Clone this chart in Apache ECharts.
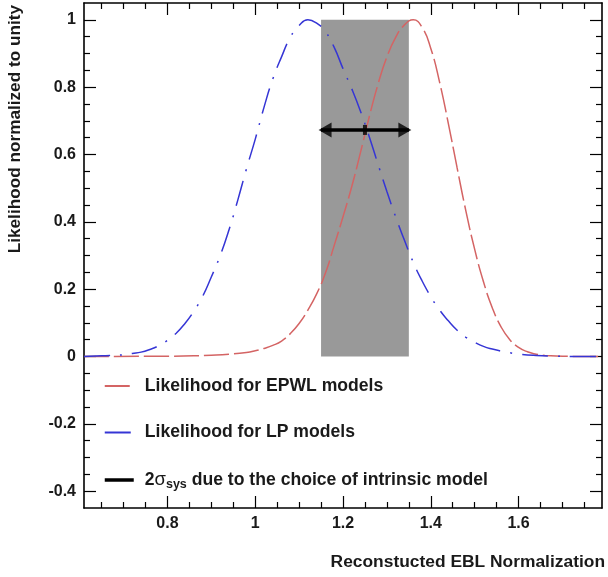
<!DOCTYPE html>
<html>
<head>
<meta charset="utf-8">
<script src="https://cdn.jsdelivr.net/npm/echarts@6/dist/echarts.min.js"></script>
<style>
html,body{margin:0;padding:0;background:#fff;}
#chart{width:608px;height:577px;}
</style>
</head>
<body>
<div id="chart"></div>
<script>
// ---- data ----
const lpName = 'Likelihood for LP models';
const epwlName = 'Likelihood for EPWL models';
const sysName = '2σsys due to the choice of intrinsic model';

const lpX = [0.61,0.65,0.70,0.72,0.74,0.76,0.78,0.80,0.82,0.84,0.86,0.88,0.90,0.92,0.94,0.96,0.98,1.00,1.02,1.04,1.06,1.08,1.10,1.12,1.14,1.16,1.18,1.20,1.22,1.24,1.26,1.28,1.30,1.32,1.34,1.36,1.38,1.40,1.42,1.44,1.46,1.48,1.50,1.52,1.54,1.56,1.58,1.60,1.64,1.68,1.72,1.79];
const lpY = [0.000,0.002,0.005,0.009,0.013,0.021,0.032,0.048,0.069,0.098,0.134,0.178,0.236,0.299,0.375,0.463,0.557,0.645,0.740,0.824,0.890,0.948,0.983,1.000,0.990,0.965,0.918,0.855,0.795,0.728,0.652,0.570,0.490,0.415,0.345,0.280,0.225,0.178,0.138,0.106,0.078,0.057,0.042,0.030,0.022,0.016,0.011,0.007,0.003,0.001,0.000,0.000];

const epwlX = [0.61,0.80,0.86,0.90,0.94,0.98,1.00,1.02,1.04,1.06,1.08,1.10,1.12,1.14,1.16,1.18,1.20,1.22,1.24,1.26,1.28,1.30,1.32,1.34,1.36,1.38,1.40,1.42,1.44,1.46,1.48,1.50,1.52,1.54,1.56,1.58,1.60,1.62,1.64,1.66,1.70,1.74,1.79];
const epwlY = [0.000,0.001,0.002,0.004,0.007,0.012,0.017,0.024,0.033,0.046,0.068,0.098,0.138,0.186,0.248,0.330,0.415,0.505,0.607,0.713,0.810,0.890,0.948,0.985,1.000,0.978,0.915,0.815,0.692,0.560,0.432,0.318,0.222,0.145,0.088,0.050,0.027,0.014,0.007,0.003,0.001,0.000,0.000];

const bandX = [1.15, 1.35];   // shaded systematic band
const bandY = [0, 1];
const arrowX = [1.15, 1.35];  // 2 sigma_sys arrow
const arrowMid = 1.25;
const arrowY = 0.673;

const xRange = [0.61, 1.79];
const yRange = [-0.45, 1.05];
const xMajor = [0.8, 1.0, 1.2, 1.4, 1.6];
const xMinor = [0.65,0.70,0.75,0.85,0.90,0.95,1.05,1.10,1.15,1.25,1.30,1.35,1.45,1.50,1.55,1.65,1.70,1.75];
const yMajor = [-0.4,-0.2,0,0.2,0.4,0.6,0.8,1.0];
const yMinor = [-0.35,-0.3,-0.25,-0.15,-0.1,-0.05,0.05,0.1,0.15,0.25,0.3,0.35,0.45,0.5,0.55,0.65,0.7,0.75,0.85,0.9,0.95];

const xTitle = 'Reconstucted EBL Normalization';
const yTitle = 'Likelihood normalized to unity';

// ---- styling ----
const FONT = '"Liberation Sans", Arial, Helvetica, sans-serif';
const TXT = '#1a1a1a';
const RED = '#d46464';
const BLUE = '#3535d5';

function mkAxis(kind, pos, ticks, len, withLine, withLabels) {
  const range = kind === 'x' ? xRange : yRange;
  return {
    type: 'value', position: pos, min: range[0], max: range[1],
    gridIndex: 0,
    axisLine: { show: withLine, onZero: false, lineStyle: { color: '#000', width: 1.6 } },
    axisTick: { show: true, inside: true, length: len, customValues: ticks, lineStyle: { color: '#000', width: 1.2 } },
    axisLabel: withLabels ? {
      show: true, customValues: ticks, margin: 8, color: TXT,
      fontFamily: FONT, fontWeight: 'bold', fontSize: 16
    } : { show: false },
    splitLine: { show: false },
    minorTick: { show: false },
    minorSplitLine: { show: false }
  };
}

const chart = echarts.init(document.getElementById('chart'), null, { renderer: 'canvas' });

const option = {
  animation: false,
  backgroundColor: '#fff',
  grid: { left: 84, right: 6, top: 3, bottom: 69, containLabel: false },
  xAxis: [
    mkAxis('x', 'bottom', xMajor, 12, true, true),
    mkAxis('x', 'bottom', xMinor, 6, false, false),
    mkAxis('x', 'top', xMajor, 12, true, false),
    mkAxis('x', 'top', xMinor, 6, false, false)
  ],
  yAxis: [
    mkAxis('y', 'left', yMajor, 12, true, true),
    mkAxis('y', 'left', yMinor, 6, false, false),
    mkAxis('y', 'right', yMajor, 12, true, false),
    mkAxis('y', 'right', yMinor, 6, false, false)
  ],
  legend: {
    orient: 'vertical', left: 103, top: 376, padding: 0,
    itemWidth: 29, itemHeight: 10, itemGap: 26.5,
    selectedMode: false,
    itemStyle: { opacity: 0, borderWidth: 0 },
    data: [
      { name: epwlName },
      { name: lpName },
      { name: sysName, lineStyle: { width: 3.5, color: '#000' } }
    ],
    formatter: function (name) {
      if (name === sysName) return '2{sig|σ}{sub|sys} due to the choice of intrinsic model';
      return name;
    },
    textStyle: {
      fontFamily: FONT, fontWeight: 'bold', fontSize: 17.6, color: TXT,
      lineHeight: 20, padding: [0, 0, 0, 6],
      rich: {
        sig: { fontFamily: FONT, fontWeight: 'normal', fontSize: 18.5, color: TXT, lineHeight: 20 },
        sub: { fontFamily: FONT, fontWeight: 'bold', fontSize: 12.5, color: TXT, lineHeight: 11, padding: [9, 0, 0, 0] }
      }
    }
  },
  graphic: [
    {
      type: 'text', right: 3, top: 554, z: 10,
      style: { text: xTitle, font: 'bold 17.4px ' + FONT, fill: TXT }
    },
    {
      type: 'text', x: 15, y: 5, rotation: Math.PI / 2, z: 10,
      style: { text: yTitle, font: 'bold 17.2px ' + FONT, fill: TXT,
        align: 'right', verticalAlign: 'middle', textAlign: 'right', textVerticalAlign: 'middle' }
    }
  ],
  series: [
    {
      type: 'custom', name: 'band', silent: true, z: 1,
      xAxisIndex: 0, yAxisIndex: 0,
      data: [[bandX[0], bandX[1], bandY[0], bandY[1]]],
      encode: { x: [0, 1], y: [2, 3] },
      renderItem: function (params, api) {
        const a = api.coord([api.value(0), api.value(3)]);
        const b = api.coord([api.value(1), api.value(2)]);
        return { type: 'rect', shape: { x: a[0], y: a[1], width: b[0] - a[0], height: b[1] - a[1] },
          style: { fill: '#999999' } };
      }
    },
    {
      type: 'line', name: epwlName, z: 3, xAxisIndex: 0, yAxisIndex: 0,
      data: epwlX.map((x, i) => [x, epwlY[i]]),
      smooth: true, symbol: 'none', color: RED,
      lineStyle: { color: RED, width: 1.5, type: [25, 5] }
    },
    {
      type: 'line', name: lpName, z: 3, xAxisIndex: 0, yAxisIndex: 0,
      data: lpX.map((x, i) => [x, lpY[i]]),
      smooth: true, symbol: 'none', color: BLUE,
      lineStyle: { color: BLUE, width: 1.5, type: [26, 10, 2, 10] }
    },
    {
      type: 'line', name: sysName, z: 4, xAxisIndex: 0, yAxisIndex: 0,
      data: arrowX.map(x => [x, arrowY]),
      symbol: 'none', color: '#000',
      lineStyle: { color: '#000', width: 3.5, type: 'solid' }
    },
    {
      type: 'scatter', name: 'arrowheads', z: 5, xAxisIndex: 0, yAxisIndex: 0, silent: true,
      symbol: 'triangle', symbolSize: [15, 13],
      itemStyle: { color: '#000' },
      data: [
        { value: [arrowX[0], arrowY], symbolRotate: 90, symbolOffset: [4, 0] },
        { value: [arrowX[1], arrowY], symbolRotate: -90, symbolOffset: [-4, 0] }
      ]
    },
    {
      type: 'scatter', name: 'arrowmid', z: 5, xAxisIndex: 0, yAxisIndex: 0, silent: true,
      symbol: 'rect', symbolSize: [4, 10],
      itemStyle: { color: '#000' },
      data: [[arrowMid, arrowY]]
    }
  ]
};

chart.setOption(option);
</script>
</body>
</html>
